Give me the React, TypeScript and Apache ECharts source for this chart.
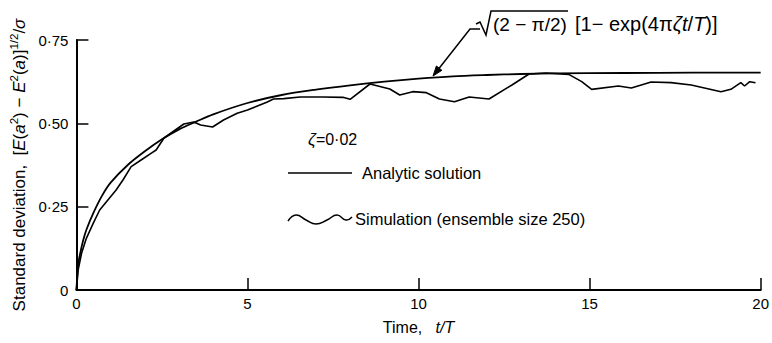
import React, { useEffect, useRef } from 'react';
import * as echarts from 'echarts';

const FONT = '"Liberation Sans", Arial, sans-serif';

// Tick labels
const yTickLabels = ['0', '0·25', '0·50', '0·75'];

// Analytic solution
const analyticT = [0, 0.05, 0.1, 0.2, 0.3, 0.5, 0.75, 1, 1.5, 2, 2.5, 3, 3.5, 4, 5, 6, 7, 8, 9, 10, 11, 12, 13, 14, 16, 18, 20];
const analyticV = [0, 0.075, 0.105, 0.15, 0.183, 0.232, 0.283, 0.322, 0.375, 0.416, 0.452, 0.482, 0.505, 0.527, 0.561, 0.585, 0.601, 0.614, 0.625, 0.634, 0.641, 0.645, 0.648, 0.650, 0.651, 0.652, 0.652];

// Simulation (ensemble size 250)
const simT = [0, 0.05, 0.15, 0.29, 0.49, 0.68, 0.92, 1.16, 1.36, 1.6, 1.89, 2.18, 2.33, 2.56, 3.14, 3.43, 3.63, 3.98, 4.3, 4.7, 5.0, 5.58, 5.76, 6.06, 6.54, 7.21, 7.79, 8.0, 8.58, 9.16, 9.45, 9.83, 10.23, 10.61, 11.05, 11.48, 12.06, 12.73, 13.23, 13.72, 14.39, 14.77, 15.06, 15.84, 16.22, 16.8, 17.38, 17.97, 18.84, 19.13, 19.42, 19.53, 19.68, 19.85];
const simV = [0, 0.06, 0.11, 0.155, 0.2, 0.24, 0.27, 0.3, 0.33, 0.37, 0.39, 0.41, 0.42, 0.456, 0.498, 0.504, 0.495, 0.489, 0.51, 0.53, 0.54, 0.564, 0.573, 0.574, 0.579, 0.579, 0.578, 0.572, 0.618, 0.603, 0.585, 0.595, 0.592, 0.573, 0.565, 0.579, 0.573, 0.615, 0.648, 0.651, 0.647, 0.625, 0.602, 0.612, 0.606, 0.624, 0.622, 0.615, 0.595, 0.602, 0.622, 0.612, 0.625, 0.622];

export default function App() {
  const ref = useRef<HTMLDivElement>(null);

  useEffect(() => {
    const chart = echarts.init(ref.current!, null, { renderer: 'svg' });
    const analyticData = analyticT.map((t, i) => [t, analyticV[i]]);
    const simData = simT.map((t, i) => [t, simV[i]]);

    const txt = { fill: '#000', fontFamily: FONT };

    chart.setOption({
      animation: false,
      backgroundColor: '#fff',
      grid: { left: 75, right: 9, top: 40, bottom: 53 },
      xAxis: {
        type: 'value',
        min: 0,
        max: 20,
        interval: 5,
        name: '{n|Time,   }{i|t/T}',
        nameLocation: 'middle',
        nameGap: 29,
        nameTextStyle: {
          rich: {
            n: { fontSize: 16, fontFamily: FONT, color: '#000' },
            i: { fontSize: 16, fontFamily: FONT, color: '#000', fontStyle: 'italic' },
          },
        },
        axisLine: { show: true, lineStyle: { color: '#000', width: 2 } },
        axisTick: { show: true, inside: true, length: 12, lineStyle: { color: '#000', width: 1.5 } },
        axisLabel: { color: '#000', fontSize: 15, fontFamily: FONT, margin: 6 },
        splitLine: { show: false },
      },
      yAxis: {
        type: 'value',
        min: 0,
        max: 0.75,
        interval: 0.25,
        name:
          '{n|Standard deviation,  [}{i|E}{n|(}{i|a}{s|2}{n|) − }{i|E}{s|2}{n|(}{i|a}{n|)]}{s|1/2}{n|/}{i|σ}',
        nameLocation: 'middle',
        nameRotate: 90,
        nameGap: 43,
        nameTextStyle: {
          rich: {
            n: { fontSize: 17, fontFamily: FONT, color: '#000', lineHeight: 22 },
            i: { fontSize: 17, fontFamily: FONT, color: '#000', fontStyle: 'italic', lineHeight: 22 },
            s: { fontSize: 11.5, fontFamily: FONT, color: '#000', verticalAlign: 'top', lineHeight: 12 },
          },
        },
        axisLine: { show: true, lineStyle: { color: '#000', width: 2 } },
        axisTick: { show: true, inside: true, length: 12, lineStyle: { color: '#000', width: 1.5 } },
        axisLabel: {
          color: '#000',
          fontSize: 15,
          fontFamily: FONT,
          margin: 8,
          formatter: (v: number) => yTickLabels[Math.round(v / 0.25)],
        },
        splitLine: { show: false },
      },
      series: [
        {
          name: 'Analytic solution',
          type: 'line',
          data: analyticData,
          smooth: 0.3,
          showSymbol: false,
          symbol: 'none',
          lineStyle: { color: '#000', width: 1.8 },
        },
        {
          name: 'Simulation (ensemble size 250)',
          type: 'line',
          data: simData,
          showSymbol: false,
          symbol: 'none',
          lineStyle: { color: '#000', width: 1.6 },
        },
      ],
      graphic: [
        // zeta label
        {
          type: 'text',
          x: 308,
          y: 139,
          style: {
            ...txt,
            text: '{i|ζ}{n|=0·02}',
            verticalAlign: 'middle',
            rich: {
              i: { fontSize: 17, fontFamily: FONT, fontStyle: 'italic', fill: '#000' },
              n: { fontSize: 16, fontFamily: FONT, fill: '#000' },
            },
          },
        },
        // legend: analytic
        {
          type: 'line',
          shape: { x1: 288, y1: 173, x2: 352, y2: 173 },
          style: { stroke: '#000', lineWidth: 1.5 },
        },
        {
          type: 'text',
          x: 362,
          y: 173,
          style: { ...txt, text: 'Analytic solution', fontSize: 16.5, verticalAlign: 'middle' },
        },
        // legend: simulation (wavy)
        {
          type: 'polyline',
          shape: {
            points: [
              [288, 221],
              [296, 215],
              [306, 220],
              [316, 224],
              [327, 220],
              [337, 215],
              [346, 220],
              [352, 217],
            ],
            smooth: 0.5,
          },
          style: { stroke: '#000', lineWidth: 1.5, fill: 'none' },
        },
        {
          type: 'text',
          x: 355,
          y: 219,
          style: { ...txt, text: 'Simulation (ensemble size 250)', fontSize: 16.5, verticalAlign: 'middle' },
        },
        // leader arrow to analytic curve
        {
          type: 'polyline',
          shape: { points: [[480, 29], [470, 29], [437, 71]] },
          style: { stroke: '#000', lineWidth: 1.5, fill: 'none' },
        },
        {
          type: 'polygon',
          shape: { points: [[433, 76], [441.9, 70.3], [436.4, 66]] },
          style: { fill: '#000', stroke: '#000', lineWidth: 1 },
        },
        // formula: square root sign with overline
        {
          type: 'polyline',
          shape: { points: [[476, 24], [480, 22], [486, 35], [491, 11], [568, 11]] },
          style: { stroke: '#000', lineWidth: 1.5, fill: 'none' },
        },
        {
          type: 'text',
          x: 493,
          y: 24,
          style: { ...txt, text: '(2 − π/2)', fontSize: 19, verticalAlign: 'middle' },
        },
        {
          type: 'text',
          x: 575,
          y: 24,
          style: {
            ...txt,
            text: '{n|[1− exp(4π}{i|ζt}{n|/}{i|T}{n|)]}',
            verticalAlign: 'middle',
            rich: {
              n: { fontSize: 20, fontFamily: FONT, fill: '#000' },
              i: { fontSize: 20, fontFamily: FONT, fill: '#000', fontStyle: 'italic' },
            },
          },
        },
      ],
    });

    return () => chart.dispose();
  }, []);

  return (
    <div
      ref={ref}
      style={{ position: 'absolute', left: 0, top: 0, width: 772, height: 343, background: '#fff' }}
    />
  );
}
